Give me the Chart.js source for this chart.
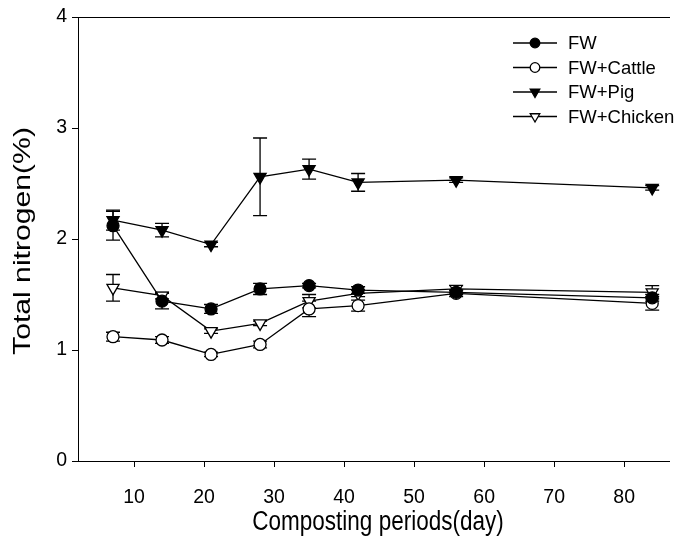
<!DOCTYPE html>
<html>
<head>
<meta charset="utf-8">
<title>Total nitrogen</title>
<script src="https://cdn.jsdelivr.net/npm/chart.js@4.4.1/dist/chart.umd.min.js"></script>
<style>
  html, body { margin: 0; padding: 0; background: #fff; }
  #wrap { width: 678px; height: 540px; position: relative; }
</style>
</head>
<body>
<div id="wrap"><canvas id="nitrogenChart" width="678" height="540"></canvas></div>
<script>
// data
const days = [7, 14, 21, 28, 35, 42, 56, 84];
const fw = [2.12, 1.44, 1.37, 1.55, 1.58, 1.54, 1.52, 1.47];
const fwErr = [0.13, 0.07, 0.04, 0.05, 0.02, 0.03, 0.02, 0.03];
const cattle = [1.12, 1.09, 0.96, 1.05, 1.37, 1.40, 1.51, 1.42];
const cattleErr = [0.04, 0.03, 0.02, 0.03, 0.07, 0.05, 0.03, 0.06];
const pig = [2.17, 2.08, 1.95, 2.56, 2.63, 2.51, 2.53, 2.46];
const pigErr = [0.09, 0.06, 0.02, 0.35, 0.09, 0.08, 0.02, 0.02];
const chicken = [1.56, 1.49, 1.17, 1.24, 1.44, 1.51, 1.55, 1.52];
const chickenErr = [0.12, 0.03, 0.02, 0.02, 0.06, 0.03, 0.03, 0.06];
const seriesNames = ["FW", "FW+Cattle", "FW+Pig", "FW+Chicken"];
const xTicks = [10, 20, 30, 40, 50, 60, 70, 80];
const yTicks = [0, 1, 2, 3, 4];
const xTitle = "Composting periods(day)";
const yTitle = "Total nitrogen(%)";

const FONT = "'Liberation Sans', Arial, sans-serif";
const NARROW = "'Liberation Sans Narrow', 'Liberation Sans', Arial, sans-serif";
Chart.defaults.font.family = FONT;
Chart.defaults.color = "#000";

function makeSet(label, values, errors, style, fill, radius) {
    return {
        label: label,
        data: days.map((d, i) => ({ x: d, y: values[i] })),
        errors: errors,
        borderColor: "#000",
        borderWidth: 1.3,
        pointStyle: style,
        pointRotation: style === "triangle" ? 180 : 0,
        pointRadius: radius,
        pointBackgroundColor: fill,
        pointBorderColor: "#000",
        pointBorderWidth: 1.3,
        tension: 0,
    };
}

// vertical error bars with caps, drawn under the markers
const errorBars = {
    id: "errorBars",
    beforeDatasetsDraw(chart) {
        const ctx = chart.ctx;
        const xs = chart.scales.x, ys = chart.scales.y;
        ctx.save();
        ctx.strokeStyle = "#000";
        ctx.lineWidth = 1.3;
        chart.data.datasets.forEach(ds => {
            ds.data.forEach((p, i) => {
                const e = ds.errors[i];
                const px = xs.getPixelForValue(p.x);
                const top = ys.getPixelForValue(p.y + e);
                const bot = ys.getPixelForValue(p.y - e);
                ctx.beginPath();
                ctx.moveTo(px, top); ctx.lineTo(px, bot);
                ctx.moveTo(px - 7, top); ctx.lineTo(px + 7, top);
                ctx.moveTo(px - 7, bot); ctx.lineTo(px + 7, bot);
                ctx.stroke();
            });
        });
        ctx.restore();
    }
};

// legend: short line with the marker in the middle, top right
const lineLegend = {
    id: "lineLegend",
    afterDraw(chart) {
        const ctx = chart.ctx;
        ctx.save();
        chart.data.datasets.forEach((ds, i) => {
            const y = 43 + i * 24.5;
            ctx.strokeStyle = "#000";
            ctx.lineWidth = 1.3;
            ctx.beginPath();
            ctx.moveTo(513, y); ctx.lineTo(557, y);
            ctx.stroke();
            ctx.fillStyle = ds.pointBackgroundColor;
            Chart.helpers.drawPoint(ctx, {
                pointStyle: ds.pointStyle,
                rotation: ds.pointRotation,
                radius: ds.pointStyle === "triangle" ? 5.5 : 4.8,
                borderWidth: 1.2
            }, 535, y);
            ctx.fillStyle = "#000";
            ctx.font = "18.5px " + FONT;
            ctx.textBaseline = "middle";
            ctx.textAlign = "left";
            ctx.fillText(ds.label, 568, y + 1);
        });
        ctx.restore();
    }
};

// axis titles, stretched a little along the page height like the original
const axisTitles = {
    id: "axisTitles",
    afterDraw(chart) {
        const ctx = chart.ctx;
        ctx.save();
        ctx.fillStyle = "#000";
        ctx.textAlign = "center";
        ctx.textBaseline = "middle";
        ctx.save();
        ctx.font = "22.5px " + FONT;
        ctx.translate(378, 523);
        ctx.scale(1, 1.2);
        ctx.fillText(xTitle, 0, 0);
        ctx.restore();
        ctx.font = "22px " + FONT;
        ctx.translate(23, 241);
        ctx.rotate(-Math.PI / 2);
        ctx.scale(1.37, 1.08);
        ctx.fillText(yTitle, 0, 0);
        ctx.restore();
    }
};

const ctx = document.getElementById("nitrogenChart").getContext("2d");
new Chart(ctx, {
    type: "line",
    data: {
        datasets: [
            makeSet(seriesNames[0], fw, fwErr, "circle", "#000", 6),
            makeSet(seriesNames[1], cattle, cattleErr, "circle", "#fff", 6),
            makeSet(seriesNames[2], pig, pigErr, "triangle", "#000", 7),
            makeSet(seriesNames[3], chicken, chickenErr, "triangle", "#fff", 7),
        ],
    },
    options: {
        responsive: false,
        animation: false,
        layout: { padding: { top: 17, right: 0, left: 0, bottom: 0 } },
        plugins: { legend: { display: false }, tooltip: { enabled: false } },
        scales: {
            x: {
                type: "linear",
                min: 2,
                max: 86.5,
                afterBuildTicks: axis => { axis.ticks = xTicks.map(v => ({ value: v })); },
                afterFit: axis => { axis.height = 79; },
                ticks: { padding: 19, font: { family: NARROW, size: 19.5 } },
                grid: { drawOnChartArea: false, drawTicks: true, tickLength: 6, color: "#000" },
                border: { color: "#000", width: 1 },
            },
            xTop: {
                type: "linear",
                position: "top",
                min: 2,
                max: 86.5,
                afterFit: axis => { axis.height = 0; },
                ticks: { display: false },
                grid: { display: false },
                border: { display: true, color: "#000", width: 1 },
            },
            y: {
                min: 0,
                max: 4,
                afterBuildTicks: axis => { axis.ticks = yTicks.map(v => ({ value: v })); },
                afterFit: axis => { axis.width = 78; },
                ticks: { padding: 5, font: { family: NARROW, size: 19.5 } },
                grid: { drawOnChartArea: false, drawTicks: true, tickLength: 6, color: "#000" },
                border: { color: "#000", width: 1 },
            },
        },
    },
    plugins: [errorBars, lineLegend, axisTitles],
});
</script>
</body>
</html>
